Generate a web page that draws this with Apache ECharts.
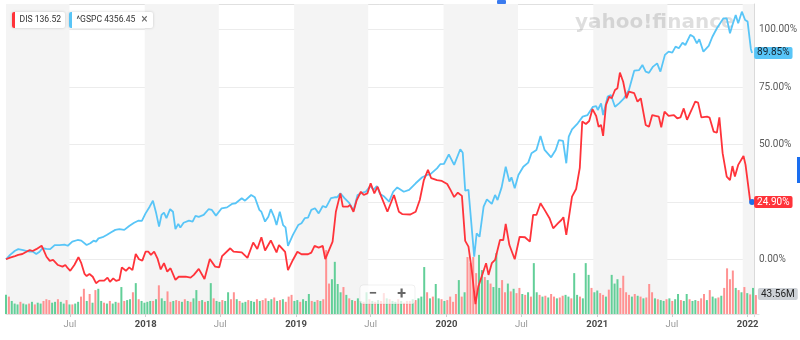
<!DOCTYPE html>
<html><head><meta charset="utf-8">
<script src="https://cdn.jsdelivr.net/npm/echarts@6/dist/echarts.min.js"></script>
<style>html,body{margin:0;padding:0;background:#fff}#c{width:800px;height:340px}</style>
</head><body><div id="c"></div>
<script>
// ---------- data ----------
const spxDates = ['2017-01-27','2017-02-06','2017-02-18','2017-02-26','2017-03-10','2017-03-17','2017-03-26','2017-04-03','2017-04-11','2017-04-19','2017-04-26','2017-05-06','2017-05-15','2017-05-26','2017-06-07','2017-06-19','2017-06-27','2017-07-08','2017-07-21','2017-07-30','2017-08-12','2017-08-21','2017-08-29','2017-09-04','2017-09-10','2017-09-20','2017-09-30','2017-10-11','2017-10-21','2017-10-31','2017-11-12','2017-11-24','2017-12-06','2017-12-16','2017-12-25','2018-01-03','2018-01-13','2018-01-21','2018-01-29','2018-02-05','2018-02-11','2018-02-17','2018-02-23','2018-03-04','2018-03-11','2018-03-17','2018-03-24','2018-03-29','2018-04-06','2018-04-19','2018-04-28','2018-05-05','2018-05-13','2018-05-25','2018-06-06','2018-06-14','2018-06-24','2018-07-08','2018-07-21','2018-08-02','2018-08-11','2018-08-26','2018-09-03','2018-09-18','2018-09-27','2018-10-08','2018-10-13','2018-10-22','2018-10-30','2018-11-05','2018-11-13','2018-11-19','2018-11-27','2018-12-05','2018-12-11','2018-12-17','2018-12-29','2019-01-11','2019-01-19','2019-01-27','2019-02-04','2019-02-12','2019-02-21','2019-03-02','2019-03-12','2019-03-20','2019-04-01','2019-04-10','2019-04-16','2019-04-24','2019-05-04','2019-05-16','2019-05-26','2019-06-05','2019-06-17','2019-06-25','2019-07-06','2019-07-14','2019-07-22','2019-07-30','2019-08-09','2019-08-21','2019-08-31','2019-09-10','2019-09-26','2019-10-09','2019-10-25','2019-11-10','2019-11-22','2019-11-30','2019-12-16','2019-12-24','2020-01-02','2020-01-14','2020-01-27','2020-02-11','2020-02-17','2020-02-23','2020-03-02','2020-03-16','2020-03-22','2020-03-29','2020-04-08','2020-04-16','2020-04-28','2020-05-06','2020-05-12','2020-05-22','2020-06-01','2020-06-10','2020-06-15','2020-06-23','2020-07-02','2020-07-14','2020-07-26','2020-08-03','2020-08-15','2020-08-25','2020-09-04','2020-09-20','2020-10-01','2020-10-09','2020-10-19','2020-10-27','2020-11-02','2020-11-10','2020-11-24','2020-12-06','2020-12-18','2020-12-31','2021-01-08','2021-01-12','2021-01-20','2021-01-25','2021-02-05','2021-02-13','2021-02-23','2021-03-05','2021-03-17','2021-03-29','2021-04-11','2021-04-23','2021-05-01','2021-05-09','2021-05-17','2021-05-27','2021-06-06','2021-06-14','2021-06-25','2021-07-04','2021-07-13','2021-07-21','2021-07-29','2021-08-07','2021-08-14','2021-08-26','2021-09-03','2021-09-11','2021-09-17','2021-09-27','2021-10-10','2021-10-19','2021-10-30','2021-11-07','2021-11-15','2021-11-23','2021-12-01','2021-12-07','2021-12-15','2021-12-21','2021-12-30','2022-01-07','2022-01-13','2022-01-21','2022-01-24'];
const spxPct = [0,1.9,3.7,4.4,4.0,3.7,3.3,3.3,2.3,3.3,4.8,4.5,4.4,6.2,6.2,6.4,5.9,7.7,8.4,8.1,6.2,7.0,8.1,7.7,9.1,9.6,10.6,11.8,12.8,13.1,12.8,14.5,15.9,16.8,16.7,20.0,22.9,25.5,20.0,14.2,19.3,20.3,17.9,21.8,20.7,13.1,15.4,13.8,15.9,16.8,16.4,18.9,18.5,19.3,21.8,21.5,19.0,22.2,22.6,24.1,24.4,26.6,25.5,28.0,27.0,21.5,20.7,16.4,18.5,21.8,18.5,14.9,20.7,14.9,13.9,5.8,10.6,14.9,15.7,17.9,18.1,21.5,22.2,20.0,23.2,22.6,26.6,27.0,27.0,28.7,26.6,24.4,21.2,28.0,29.0,29.4,31.9,30.2,31.9,28.4,27.3,25.1,29.4,31.3,29.4,30.2,33.1,35.7,36.7,37.1,39.6,41.4,41.5,45.7,41.1,47.9,46.4,29.9,30.2,1.1,11.3,9.8,22.9,26.1,24.1,28.0,25.8,31.3,40.3,33.8,35.7,30.9,36.7,40.3,42.1,46.2,47.6,53.7,47.6,44.4,47.6,51.9,51.6,41.8,53.4,56.6,59.2,62.1,62.8,66.4,66.7,65.0,67.9,62.8,70.8,71.5,66.4,67.9,70.1,73.7,82.1,82.4,84.6,81.7,81.2,83.9,85.3,81.7,89.0,90.4,90.0,92.6,91.9,94.3,93.3,97.7,96.9,94.0,95.8,90.4,92.9,96.9,100.6,102.8,104.9,104.9,98.4,102.0,106.4,102.8,107.8,104.2,103.5,91.6,89.85];

const disDates = ['2017-01-27','2017-02-06','2017-02-18','2017-02-26','2017-03-08','2017-03-18','2017-03-26','2017-04-02','2017-04-11','2017-04-24','2017-04-29','2017-05-06','2017-05-14','2017-05-22','2017-06-03','2017-06-14','2017-06-21','2017-06-27','2017-07-03','2017-07-13','2017-07-23','2017-07-30','2017-08-07','2017-08-12','2017-08-19','2017-08-27','2017-09-04','2017-09-12','2017-09-24','2017-10-02','2017-10-08','2017-10-16','2017-10-23','2017-10-31','2017-11-06','2017-11-16','2017-11-24','2017-12-02','2017-12-10','2017-12-18','2017-12-26','2018-01-03','2018-01-10','2018-01-16','2018-01-24','2018-02-01','2018-02-09','2018-02-17','2018-02-25','2018-03-05','2018-03-17','2018-03-25','2018-04-11','2018-04-23','2018-05-01','2018-05-13','2018-05-27','2018-06-09','2018-06-22','2018-07-02','2018-07-09','2018-07-29','2018-08-06','2018-08-26','2018-09-09','2018-09-23','2018-10-03','2018-10-13','2018-10-22','2018-11-05','2018-11-19','2018-11-25','2018-12-10','2018-12-17','2018-12-29','2019-01-09','2019-01-19','2019-02-04','2019-02-12','2019-02-20','2019-03-02','2019-03-12','2019-03-18','2019-03-24','2019-04-05','2019-04-13','2019-04-24','2019-04-30','2019-05-12','2019-05-18','2019-05-26','2019-06-03','2019-06-13','2019-06-20','2019-06-29','2019-07-07','2019-07-16','2019-07-24','2019-08-02','2019-08-17','2019-09-02','2019-09-14','2019-09-22','2019-10-12','2019-10-25','2019-11-04','2019-11-14','2019-11-24','2019-12-02','2019-12-16','2019-12-28','2020-01-10','2020-01-18','2020-01-27','2020-02-05','2020-02-15','2020-02-23','2020-03-02','2020-03-10','2020-03-19','2020-03-26','2020-04-06','2020-04-14','2020-04-20','2020-04-28','2020-05-06','2020-05-18','2020-05-26','2020-06-01','2020-06-10','2020-06-23','2020-07-05','2020-07-18','2020-07-30','2020-08-07','2020-08-15','2020-08-25','2020-09-04','2020-09-16','2020-09-25','2020-10-07','2020-10-15','2020-10-20','2020-10-27','2020-11-10','2020-11-20','2020-11-29','2020-12-05','2020-12-14','2020-12-22','2020-12-30','2021-01-08','2021-01-14','2021-01-20','2021-01-25','2021-02-01','2021-02-09','2021-02-15','2021-02-23','2021-03-01','2021-03-07','2021-03-15','2021-03-23','2021-03-29','2021-04-11','2021-04-19','2021-04-27','2021-05-09','2021-05-17','2021-05-25','2021-06-02','2021-06-10','2021-06-16','2021-06-24','2021-07-04','2021-07-17','2021-07-25','2021-08-02','2021-08-10','2021-08-18','2021-08-29','2021-09-07','2021-09-14','2021-09-22','2021-10-06','2021-10-12','2021-10-22','2021-10-30','2021-11-05','2021-11-13','2021-11-23','2021-12-01','2021-12-07','2021-12-13','2021-12-21','2022-01-03','2022-01-08','2022-01-19','2022-01-24'];
const disPct = [0,0.7,1.4,1.9,2.3,3.3,4.0,3.6,4.4,5.9,4.0,1.1,-0.7,-0.3,-2.5,-3.2,-2.5,-3.9,-5.0,-2.5,0.9,-1.7,-6.4,-7.3,-6.4,-7.6,-10.4,-9.3,-9.3,-8.0,-9.8,-8.3,-9.4,-9.0,-3.5,-5.0,-3.5,-4.7,2.3,0,-0.6,3.3,3.3,1.9,3.3,0.4,-4.4,-1.7,-5.4,-3.9,-9.0,-7.6,-7.6,-8.0,-6.8,-4.2,-8.6,0.1,-3.2,-3.5,1.4,4.8,3.3,3.0,0.6,7.3,4.5,9.6,3.8,8.2,3.0,6.2,3.2,-4.7,-0.3,3.3,2.2,2.2,2.9,5.8,5.1,5.8,0.1,2.6,7.7,20.7,28.7,22.9,22.9,23.6,20.7,25.8,29.4,28.0,28.7,33.1,28.7,31.6,27.3,20.7,28.0,20.7,19.7,19.5,20.7,25.8,34.5,38.9,35.3,34.5,34.1,32.8,30.2,27.1,29.0,27.6,8.0,5.5,-4.7,-19.5,-11.9,-6.1,-1.7,-6.8,-1.7,-0.3,8.4,8.4,15.4,6.2,0,9.8,9.6,7.7,19.3,19.3,24.4,21.5,17.9,13.5,15.7,17.1,18.3,10.6,27.3,30.6,39.8,60.0,58.9,60.2,65.4,62.4,57.7,58.5,53.7,67.2,70.8,70.1,73.7,74.5,81.3,77.3,70.1,73.0,72.3,68.6,70.1,58.5,57.7,62.8,62.4,62.1,57.5,64.3,62.4,62.8,61.4,61.8,65.7,60.7,65.0,68.6,68.2,61.8,62.1,61.7,55.6,55.1,61.8,46.2,36.0,34.5,40.6,36.0,41.1,45.0,41.1,25.8,24.9];

// weekly DIS volume (millions), first bar week and up(1)/down(0) colouring
const volumeFirstWeek = '2017-01-27';
const volumeM = [44,40,30,24,22,28,24,22,24,28, 22,26,24,30,34,32,26,28,34,28, 24,32,22,22,24,28,40,58,30,46, 26,55,58,30,26,24,30,24,28,26,
 62,30,32,34,50,71,34,30,26,28, 30,30,34,66,36,30,52,28,30,32, 30,28,34,30,28,36,55,30,32,28, 30,71,36,30,28,32,30,50,34,50,
 34,30,26,28,32,30,28,34,30,32, 36,30,34,38,30,32,34,28,40,44, 30,32,28,34,30,46,30,28,32,30, 34,147,70,80,120,69,50,62,44,36,
 32,30,36,30,28,50,34,30,28,32, 30,48,36,34,30,28,34,30,26,30, 30,34,32,36,40,108,50,36,40,69, 36,34,30,32,40,28,46,78,40,50,
 131,117,131,94,136,101,85,78,70,62, 140,60,78,50,70,52,58,48,60,46, 44,50,40,117,50,44,40,42,38,46, 40,36,38,42,44,40,36,94,44,40,
 36,117,90,60,50,54,48,44,40,56, 90,70,80,60,88,50,44,40,46,42, 40,36,38,69,50,36,34,32,30,34, 36,30,34,46,32,30,46,34,30,32,
 30,36,46,32,55,40,36,38,42,60, 105,80,100,60,55,50,62,48,45,60,43.56];
const volumeUp = [1,0,1,1,1,0,1,1,0,1, 0,1,1,0,0,0,1,1,0,1, 1,0,1,0,1,1,0,0,1,0, 1,0,1,1,0,1,0,1,1,0,
 1,0,1,1,0,1,0,1,1,1, 1,0,1,0,1,1,0,0,1,0, 0,1,0,1,0,1,1,0,1,0, 1,1,0,1,1,0,1,1,0,0,
 1,0,1,1,0,1,1,0,1,0, 0,1,1,0,1,0,1,0,0,0, 1,1,0,1,1,1,0,1,0,1, 0,0,0,1,1,1,1,0,1,0,
 1,0,1,1,0,1,0,1,0,1, 0,0,1,0,1,1,0,1,0,0, 0,1,0,1,1,1,0,1,0,1, 1,0,1,0,0,0,0,1,0,1,
 0,0,0,0,1,1,0,1,0,1, 1,1,0,0,1,0,1,0,0,1, 0,1,0,1,1,0,1,0,1,0, 0,1,0,0,1,1,0,1,1,0,
 1,1,1,0,1,1,0,0,1,0, 1,1,1,0,0,0,0,1,0,1, 0,1,0,0,0,1,0,1,1,0, 1,0,1,1,0,1,1,0,1,1,
 0,0,0,1,0,1,1,0,1,0, 0,0,0,1,0,1,0,1,0,1,0];

const tickDates = ['2017-07-01','2018-01-01','2018-07-01','2019-01-01','2019-07-01','2020-01-01','2020-07-01','2021-01-01','2021-07-01','2022-01-01'];
const tickLabels = ['Jul','2018','Jul','2019','Jul','2020','Jul','2021','Jul','2022'];
const yTickValues = [0,25,50,75,100];
const shadedPeriods = [['2017-01-27','2017-07-01'],['2018-01-01','2018-07-01'],['2019-01-01','2019-07-01'],['2020-01-01','2020-07-01'],['2021-01-01','2021-07-01'],['2022-01-01','2022-01-28T12:00']];
const legendNames = ['DIS','^GSPC'];
const legendPrices = ['136.52','4356.45'];

// ---------- helpers / styles ----------
function ts(s){const m=s.match(/(\d+)-(\d+)-(\d+)(?:T(\d+):(\d+))?/);return Date.UTC(+m[1],m[2]-1,+m[3],+(m[4]||0),+(m[5]||0));}
const RED='#ff333a', BLUE='#58c5f7', VOL_UP='#62cf98', VOL_DOWN='#ff9292', DOT='#1f6fe8';
const FONT='Roboto, "Liberation Sans", Arial, sans-serif';
const X_MIN=ts('2017-01-27'), X_MAX=ts('2022-01-28T12:00');
const Y_MIN=-25, Y_MAX=111.15, Y_PLOT_BOTTOM=-23.8;
const WEEK=7*86400000;
const tickTs=tickDates.map(ts);

const spxData=spxDates.map((d,i)=>[ts(d),spxPct[i]]);
const disData=disDates.map((d,i)=>{
  const p=[ts(d),disPct[i]];
  return i===disDates.length-1 ? {value:p,symbol:'circle',symbolSize:6,itemStyle:{color:DOT}} : p;
});
const t0=ts(volumeFirstWeek);
const volData=volumeM.map((v,i)=>{
  const item={value:[t0+i*WEEK,v],itemStyle:{color:volumeUp[i]?VOL_UP:VOL_DOWN}};
  if(i===volumeM.length-1){
    item.label={show:true,position:[3,-7],align:'left',verticalAlign:'top',
      formatter:p=>p.value[1].toFixed(2)+'M',backgroundColor:'#cdd1d6',color:'#222',
      padding:[1,3,1,3],borderRadius:2,fontSize:10,fontFamily:FONT};
  }
  return item;
});

function xLabel(v){
  let k=-1;
  for(let i=0;i<tickTs.length;i++){ if(Math.abs(tickTs[i]-v)<3600000){k=i;break;} }
  if(k<0) return '';
  const s=tickLabels[k];
  return /^\d+$/.test(s)?'{y|'+s+'}':'{m|'+s+'}';
}

const chart=echarts.init(document.getElementById('c'),null,{renderer:'canvas'});
const option={
  animation:false,
  grid:[{left:6,right:41,top:4,bottom:23.3},{left:6,right:41,top:234,bottom:26}],
  xAxis:[
    {type:'value',gridIndex:0,min:X_MIN,max:X_MAX,show:false,splitLine:{show:false}},
    {type:'value',gridIndex:1,min:X_MIN,max:X_MAX,
     axisLine:{show:true,lineStyle:{color:'#e2e2e2'}},
     axisTick:{show:true,customValues:tickTs,length:3,lineStyle:{color:'#cfcfcf'}},
     splitLine:{show:false},
     axisLabel:{customValues:tickTs,margin:6,fontSize:9.5,fontFamily:FONT,formatter:xLabel,
       rich:{y:{fontWeight:'bold',color:'#4a4a4a',fontSize:9.5,fontFamily:FONT},m:{color:'#9a9a9a',fontSize:9.5,fontFamily:FONT}}}}
  ],
  yAxis:[
    {type:'value',gridIndex:0,position:'right',min:Y_MIN,max:Y_MAX,interval:25,
     axisLine:{show:true,lineStyle:{color:'#dadada'}},axisTick:{show:false},
     axisLabel:{margin:5,color:'#5a5a5a',fontSize:10,fontFamily:FONT,showMaxLabel:false,
       formatter:v=>yTickValues.indexOf(v)>=0?v.toFixed(2)+'%':''},
     splitLine:{show:true,lineStyle:{width:1,color:['rgba(0,0,0,0)','#ececec','#ececec','#ececec','#ececec','#ececec','#e0e0e0']}}},
    {type:'value',gridIndex:1,min:0,max:184,show:false}
  ],
  series:[
    {type:'line',name:'bands',xAxisIndex:0,yAxisIndex:0,data:[],z:0,silent:true,
     markArea:{silent:true,z:0.5,itemStyle:{color:'#f4f4f4'},
       data:shadedPeriods.map(p=>[{xAxis:ts(p[0]),yAxis:Y_MAX},{xAxis:ts(p[1]),yAxis:Y_PLOT_BOTTOM}])}},
    {type:'bar',name:'Volume',xAxisIndex:1,yAxisIndex:1,barWidth:2,z:2,data:volData,silent:true},
    {type:'line',name:'^GSPC',xAxisIndex:0,yAxisIndex:0,z:3,symbol:'none',data:spxData,
     lineStyle:{color:BLUE,width:1.8},itemStyle:{color:BLUE},
     endLabel:{show:true,distance:2,formatter:p=>p.value[1].toFixed(2)+'%',backgroundColor:BLUE,color:'#16222c',
       padding:[1,3,1,3],borderRadius:2,fontSize:10,fontFamily:FONT}},
    {type:'line',name:'DIS',xAxisIndex:0,yAxisIndex:0,z:4,symbol:'none',data:disData,
     lineStyle:{color:RED,width:1.8},itemStyle:{color:RED},
     endLabel:{show:true,distance:2,formatter:p=>p.value[1].toFixed(2)+'%',backgroundColor:RED,color:'#fff',
       padding:[1,3,1,3],borderRadius:2,fontSize:10,fontFamily:FONT}}
  ],
  graphic:[
    {type:'text',z:1.5,left:575,top:13,silent:true,
     style:{text:'yahoo!finance',font:'bold 20px "DejaVu Sans"',fill:'rgba(0,0,0,0.13)'}},
    {type:'rect',z:10,shape:{x:12,y:12,width:53,height:16,r:2},style:{fill:'#fff',shadowBlur:3,shadowColor:'rgba(0,0,0,0.18)'}},
    {type:'rect',z:11,shape:{x:12,y:12,width:3,height:16,r:[2,0,0,2]},style:{fill:RED}},
    {type:'text',z:11,x:19.5,y:20,style:{text:legendNames[0]+' '+legendPrices[0],fill:'#333',font:'8.6px '+FONT,verticalAlign:'middle'}},
    {type:'rect',z:10,shape:{x:69,y:12,width:84,height:16,r:2},style:{fill:'#fff',shadowBlur:3,shadowColor:'rgba(0,0,0,0.18)'}},
    {type:'rect',z:11,shape:{x:69,y:12,width:3,height:16,r:[2,0,0,2]},style:{fill:BLUE}},
    {type:'text',z:11,x:76.5,y:20,style:{text:legendNames[1]+' '+legendPrices[1],fill:'#333',font:'8.6px '+FONT,verticalAlign:'middle'}},
    {type:'text',z:11,x:144.5,y:20,style:{text:'×',fill:'#666',font:'12px '+FONT,align:'center',verticalAlign:'middle'}},
    {type:'rect',z:12,shape:{x:360,y:285,width:55,height:19,r:3},style:{fill:'rgba(255,255,255,0.72)',stroke:'rgba(0,0,0,0.06)'}},
    {type:'text',z:13,x:373,y:294.5,style:{text:'−',fill:'#666',font:'bold 15px '+FONT,align:'center',verticalAlign:'middle'}},
    {type:'text',z:13,x:401.5,y:294.5,style:{text:'+',fill:'#666',font:'bold 16px '+FONT,align:'center',verticalAlign:'middle'}},
    {type:'rect',z:12,shape:{x:497,y:0,width:9,height:4,r:1},style:{fill:'#3a7bef'}},
    {type:'rect',z:12,shape:{x:797,y:157,width:3,height:26},style:{fill:'#1a6ef0'}}
  ]
};
chart.setOption(option);
</script></body></html>
